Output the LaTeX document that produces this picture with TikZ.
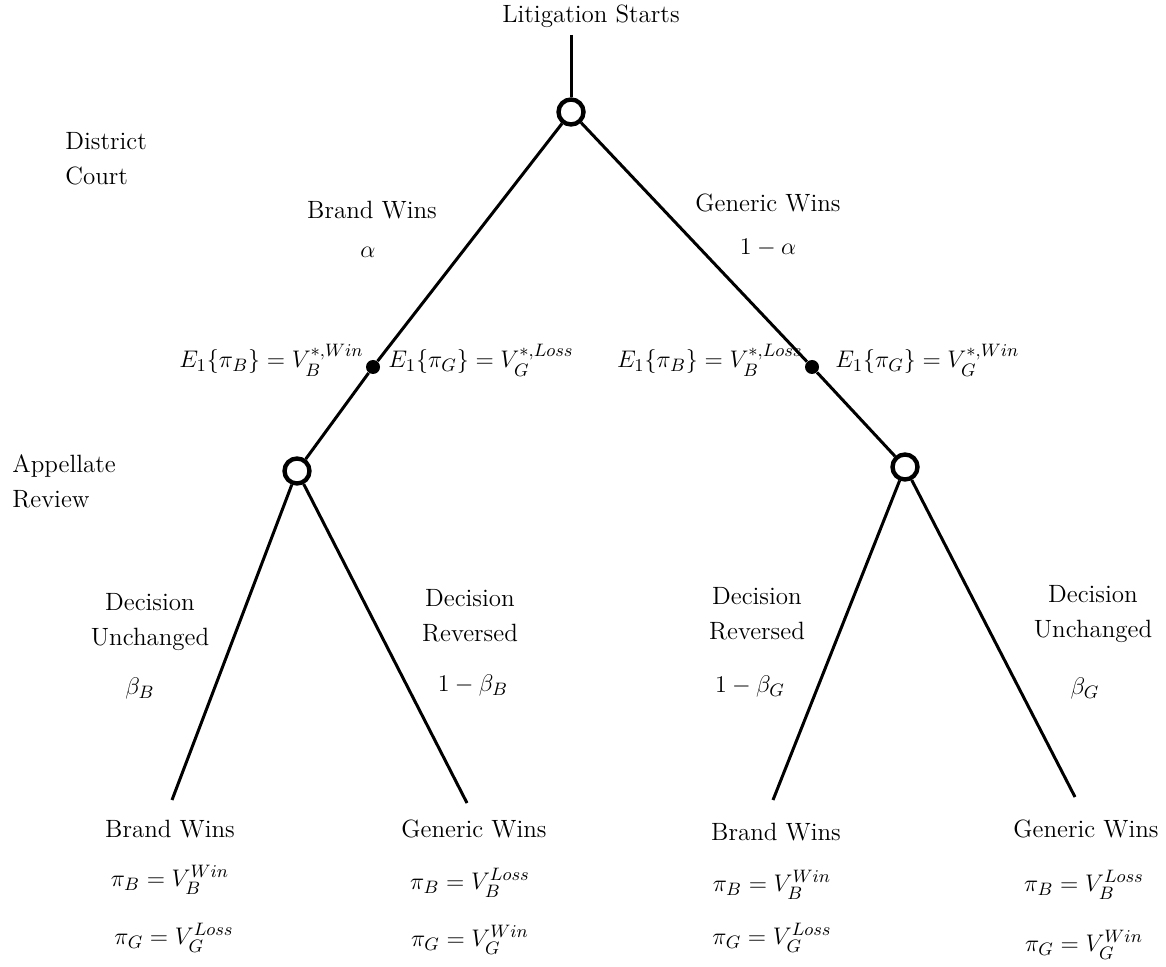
\documentclass[tikz,border=0pt]{standalone}
\usepackage{amsmath,amssymb}
\usepackage{tikz}
\usetikzlibrary{positioning, calc}

\begin{document}
\begin{tikzpicture}[
x=0.5pt, y=-0.5pt,
    chance/.style={draw, circle, line width=2.2pt, minimum size=12.5pt, inner sep=0pt, fill=white},
    dot/.style={circle, fill=black, minimum size=7pt, inner sep=0pt},
    label/.style={align=center, inner sep=1pt, font=\fontsize{12.5}{17.5}\selectfont},
    mlabel/.style={inner sep=1pt, font=\fontsize{13}{16}\selectfont},
    line/.style={draw, line width=1.5pt}
]
    \useasboundingbox (0,0) rectangle (1166,967);

    % --- Root: District Court ---
    \node[label] (title) at (591,16) {Litigation Starts};
    \coordinate (start) at (571,35);
    \node[chance] (root) at (571,112) {};
    \draw[line] (start) -- (root);
    \node[label, align=left, anchor=west] (district) at (63,159) {District\\Court};

    % --- First branches ---
    \node[label] (bwins) at (372,210) {Brand Wins};
    \node[mlabel] (alpha) at (368,252) {$\alpha$};
    \node[label] (gwins) at (768,203) {Generic Wins};
    \node[mlabel] (nalpha) at (768,248) {$1-\alpha$};

    \node[dot] (dotL) at (373,367) {};
    \node[dot] (dotR) at (812,367) {};
    \node[mlabel, anchor=east] (elb) at (366,360) {$E_1\{\pi_B\}=V_B^{*,Win}$};
    \node[mlabel, anchor=west] (elg) at (386,360) {$E_1\{\pi_G\}=V_G^{*,Loss}$};
    \node[mlabel, anchor=east] (erb) at (805,360) {$E_1\{\pi_B\}=V_B^{*,Loss}$};
    \node[mlabel, anchor=west] (erg) at (833,360) {$E_1\{\pi_G\}=V_G^{*,Win}$};

    % --- Appellate Review ---
    \node[chance] (appL) at (297,471) {};
    \node[chance] (appR) at (905,467) {};
    \node[label, align=left, anchor=west] (appellate) at (10,481) {Appellate\\Review};

    \draw[line] (root) -- (dotL);
    \draw[line] (dotL) -- (appL);
    \draw[line] (root) -- (dotR);
    \draw[line] (dotR) -- (appR);

    % --- Second branches ---
    \node[label] (luc) at (150,622) {Decision\\Unchanged};
    \node[mlabel] (lbeta) at (140,688) {$\beta_B$};
    \node[label] (lrev) at (470,616) {Decision\\Reversed};
    \node[mlabel] (lnbeta) at (473,685) {$1-\beta_B$};
    \node[label] (rrev) at (757,614) {Decision\\Reversed};
    \node[mlabel] (rnbeta) at (750,686) {$1-\beta_G$};
    \node[label] (ruc) at (1093,614) {Decision\\Unchanged};
    \node[mlabel] (rbeta) at (1085,688) {$\beta_G$};

    \coordinate (llEnd) at (172,800);
    \coordinate (lrEnd) at (467,803);
    \coordinate (rlEnd) at (773,800);
    \coordinate (rrEnd) at (1075,797);
    \draw[line] (appL) -- (llEnd);
    \draw[line] (appL) -- (lrEnd);
    \draw[line] (appR) -- (rlEnd);
    \draw[line] (appR) -- (rrEnd);

    % --- Outcomes ---
    \node[label] (ll) at (170,829) {Brand Wins};
    \node[mlabel] (llb) at (170,880) {$\pi_B=V_B^{Win}$};
    \node[mlabel] (llg) at (174,938) {$\pi_G=V_G^{Loss}$};

    \node[label] (lr) at (474,829) {Generic Wins};
    \node[mlabel] (lrb) at (470,883) {$\pi_B=V_B^{Loss}$};
    \node[mlabel] (lrg) at (470,940) {$\pi_G=V_G^{Win}$};

    \node[label] (rl) at (776,832) {Brand Wins};
    \node[mlabel] (rlb) at (772,885) {$\pi_B=V_B^{Win}$};
    \node[mlabel] (rlg) at (772,938) {$\pi_G=V_G^{Loss}$};

    \node[label] (rr) at (1086,829) {Generic Wins};
    \node[mlabel] (rrb) at (1084,885) {$\pi_B=V_B^{Loss}$};
    \node[mlabel] (rrg) at (1084,945) {$\pi_G=V_G^{Win}$};

\end{tikzpicture}
\end{document}
